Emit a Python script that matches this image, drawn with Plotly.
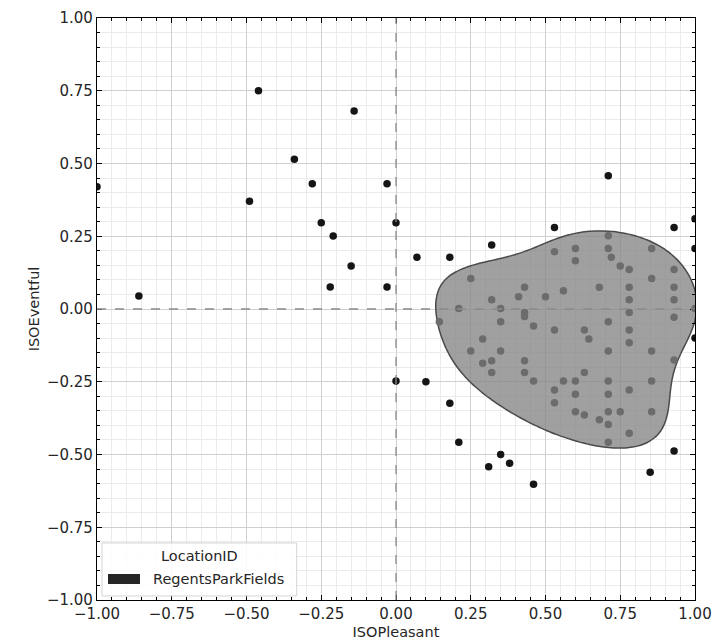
import numpy as np
import plotly.graph_objects as go

# ISOPleasant / ISOEventful survey responses (RegentsParkFields)
iso_pleasant = [
    -1.00, -0.86, -0.46, -0.49, -0.34, -0.28, -0.25, -0.21, -0.22, -0.14,
    -0.15, -0.03, -0.03, 0.00, 0.00,
    0.71, 0.53, 0.93, 1.00, 1.00, 0.32, 0.07, 0.18, 0.25, 0.145,
    0.10, 0.18, 0.21, 0.35, 0.31, 0.38, 0.46, 0.93, 0.85,
    0.21, 0.25, 0.29, 0.32, 0.29, 0.32, 0.32, 0.35, 0.35, 0.35,
    0.41, 0.43, 0.43, 0.43, 0.46, 0.43, 0.43, 0.46, 0.50, 0.53,
    0.53, 0.53, 0.53, 0.56, 0.56, 0.60, 0.60, 0.60, 0.60, 0.60,
    0.63, 0.645, 0.63, 0.63, 0.68, 0.68, 0.71, 0.71, 0.72, 0.71,
    0.71, 0.71, 0.71, 0.71, 0.71, 0.71, 0.75, 0.75, 0.78, 0.78,
    0.78, 0.78, 0.78, 0.78, 0.78, 0.78, 0.855, 0.855, 0.855, 0.855,
    0.855, 0.93, 0.93, 0.93, 0.93, 0.93, 1.00, 1.00,
]
iso_eventful = [
    0.42, 0.045, 0.75, 0.37, 0.515, 0.43, 0.296, 0.251, 0.076, 0.68,
    0.148, 0.43, 0.076, 0.296, -0.247,
    0.458, 0.28, 0.28, 0.31, 0.208, 0.22, 0.178, 0.178, 0.105, -0.044,
    -0.25, -0.324, -0.458, -0.50, -0.542, -0.53, -0.602, -0.488, -0.561,
    0.002, -0.144, -0.103, 0.032, -0.186, -0.178, -0.218, 0.002, -0.044, -0.144,
    0.042, 0.075, -0.012, -0.026, -0.058, -0.178, -0.218, -0.247, 0.042, 0.197,
    -0.072, -0.278, -0.322, 0.063, -0.247, 0.208, 0.166, -0.247, -0.293, -0.353,
    -0.072, -0.103, -0.218, -0.364, 0.075, -0.381, 0.252, 0.208, 0.178, -0.044,
    -0.144, -0.247, -0.293, -0.353, -0.397, -0.458, 0.148, -0.353, 0.136, 0.075,
    0.032, -0.012, -0.072, -0.116, -0.278, -0.427, 0.208, 0.105, -0.144, -0.247,
    -0.353, 0.136, 0.075, 0.032, -0.028, -0.175, 0.002, -0.10,
]
x_ticks = [-1.0, -0.75, -0.5, -0.25, 0.0, 0.25, 0.5, 0.75, 1.0]
y_ticks = [-1.0, -0.75, -0.5, -0.25, 0.0, 0.25, 0.5, 0.75, 1.0]
legend_title = "LocationID"
location = "RegentsParkFields"
density_thresh = 0.5
bw_adjust = 1.05

# ---- Gaussian KDE (Scott bandwidth), like seaborn kdeplot ----
pts = np.vstack([iso_pleasant, iso_eventful]).astype(float)
n = pts.shape[1]
cov = np.cov(pts) * (n ** (-1.0 / 6.0) * bw_adjust) ** 2
inv = np.linalg.inv(cov)
norm = 1.0 / (2 * np.pi * np.sqrt(np.linalg.det(cov)))


def kde_points(grid):
    Z = np.zeros(grid.shape[1])
    for i in range(n):
        d = grid - pts[:, i:i + 1]
        Z += np.exp(-0.5 * np.einsum("ij,ik,kj->j", d, inv, d))
    return Z * norm / n


def kde(gx, gy):
    X, Y = np.meshgrid(gx, gy)
    return kde_points(np.stack([X.ravel(), Y.ravel()])).reshape(X.shape)


bw = np.sqrt(np.diag(cov))
gx = np.linspace(pts[0].min() - 3 * bw[0], pts[0].max() + 3 * bw[0], 200)
gy = np.linspace(pts[1].min() - 3 * bw[1], pts[1].max() + 3 * bw[1], 200)
Z = kde(gx, gy)
vals = np.sort(Z.ravel())[::-1]
cum = np.cumsum(vals) / vals.sum()
level = vals[min(np.searchsorted(cum, 1 - density_thresh), len(vals) - 1)]

# points under the semi-opaque density fill look grey
dens_at_pts = kde_points(pts)
pt_colors = ["#6c6c6c" if d > level else "#151515" for d in dens_at_pts]

FONT = "DejaVu Sans"
TXT = "#262626"

fig = go.Figure()
fig.add_trace(go.Contour(
    x=gx, y=gy, z=Z, showscale=False, showlegend=False, name=location,
    contours=dict(type="constraint", operation="<", value=level),
    fillcolor="rgba(133,133,133,0.78)",
    line=dict(color="#4a4a4a", width=1.5, smoothing=1.0),
    hoverinfo="skip",
))
fig.add_trace(go.Scatter(
    x=iso_pleasant, y=iso_eventful, mode="markers", name=location,
    marker=dict(color=pt_colors, size=7.5), showlegend=False,
))

fig.add_vline(x=0, line=dict(color="#8a8a8a", width=1.3, dash="dash"))
fig.add_hline(y=0, line=dict(color="#8a8a8a", width=1.3, dash="dash"))

# legend box (matplotlib style) in axes-fraction coordinates
fig.add_shape(type="rect", xref="x domain", yref="y domain",
              x0=0.0084, x1=0.334, y0=0.0069, y1=0.098,
              fillcolor="rgba(255,255,255,0.85)", line=dict(color="#d4d4d4", width=1),
              layer="above")
fig.add_shape(type="rect", xref="x domain", yref="y domain",
              x0=0.0184, x1=0.0719, y0=0.0275, y1=0.0447,
              fillcolor="#262626", line=dict(width=0), layer="above")
fig.add_annotation(text=legend_title, xref="x domain", yref="y domain",
                   x=0.171, y=0.0756, showarrow=False, xanchor="center", yanchor="middle",
                   font=dict(family=FONT, size=14.5, color=TXT))
fig.add_annotation(text=location, xref="x domain", yref="y domain",
                   x=0.0910, y=0.0361, showarrow=False, xanchor="left", yanchor="middle",
                   font=dict(family=FONT, size=14.5, color=TXT))

axis_common = dict(
    range=[-1, 1], showline=True, linecolor="black", linewidth=1.2, mirror="ticks",
    ticks="inside", ticklen=5, tickcolor="black", tickformat=".2f",
    showgrid=True, gridcolor="#cfcfcf", gridwidth=1, zeroline=False, automargin=False,
    tickfont=dict(family=FONT, size=15, color=TXT),
    minor=dict(dtick=0.05, showgrid=True, gridcolor="#ebebeb", ticks="inside",
               ticklen=3, tickcolor="black"),
)
fig.update_xaxes(tickvals=x_ticks, title=dict(text="ISOPleasant", standoff=4,
                 font=dict(family=FONT, size=14.5, color=TXT)), **axis_common)
fig.update_yaxes(tickvals=y_ticks, title=dict(text="ISOEventful", standoff=3,
                 font=dict(family=FONT, size=14.5, color=TXT)), **axis_common)

fig.update_layout(
    width=713, height=641,
    margin=dict(l=97, r=18, t=18, b=41),
    paper_bgcolor="white", plot_bgcolor="white",
    font=dict(family=FONT, size=14.5, color=TXT),
    showlegend=False,
)

fig.write_html("out.html", config={"displayModeBar": False},
               post_script="document.body.style.margin='0px';")
